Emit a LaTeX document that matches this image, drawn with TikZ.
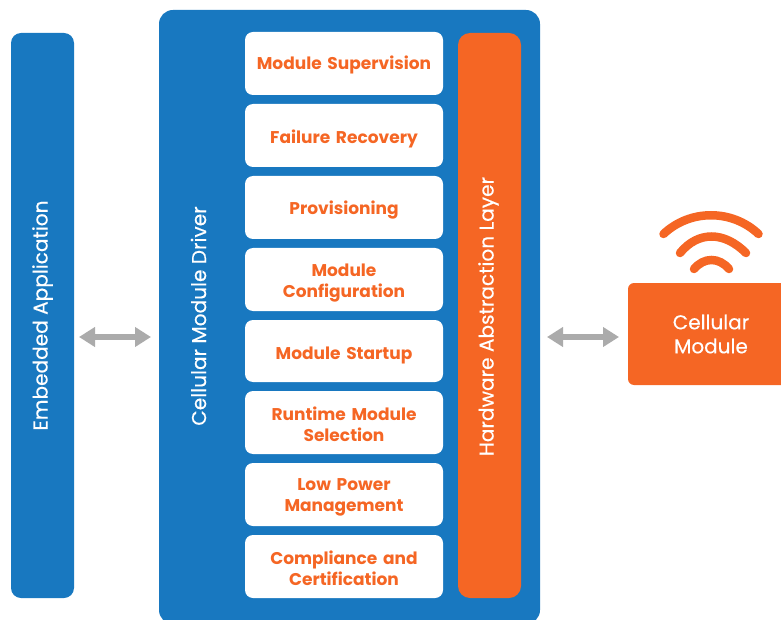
\documentclass[tikz,border=0pt]{standalone}
\usepackage{fontspec}
\setmainfont{Poppins}
\newfontfamily\medfont[FakeBold=0.3]{Poppins}
\usetikzlibrary{arrows.meta,calc}
\definecolor{cblue}{HTML}{1878C0}
\definecolor{corange}{HTML}{F56624}
\definecolor{cgrey}{HTML}{ABABAB}
\tikzset{
  panel/.style={anchor=north west,inner sep=0pt,outer sep=0pt,rounded corners=#1},
  itembox/.style={panel=8pt,fill=white,minimum width=198pt,minimum height=63pt},
  itemtext/.style={text width=190pt,align=center,text=corange,inner sep=0pt,
     font=\fontsize{17}{21}\selectfont\bfseries},
  sidelabel/.style={rotate=90,text=white,font=\fontsize{20.1}{24}\medfont},
  biarrow/.style={draw=cgrey,line width=6pt,{Triangle[length=16pt,width=19pt]}-{Triangle[length=16pt,width=19pt]}},
  wave/.style={draw=corange,line width=8.5pt,line cap=round}
}
\begin{document}
\begin{tikzpicture}[x=1pt,y=-1pt]
\useasboundingbox (0,0) rectangle (781,620);
\clip (0,0) rectangle (781,620);
\node[panel=10pt,fill=cblue,minimum width=63pt,minimum height=565pt] (app) at (11,33) {};
\node[panel=14pt,fill=cblue,minimum width=381pt,minimum height=614pt] (driver) at (159,10) {};
\node[panel=12pt,fill=corange,minimum width=63pt,minimum height=565pt] (hal) at (458,33) {};
\node[panel=6pt,fill=corange,minimum width=170pt,minimum height=102pt] (cell) at (628,283) {};
\node[itembox] (i1) at (245,32) {};
\node[itembox] (i2) at (245,104) {};
\node[itembox] (i3) at (245,176) {};
\node[itembox] (i4) at (245,248) {};
\node[itembox,minimum height=62pt] (i5) at (245,320) {};
\node[itembox] (i6) at (245,391) {};
\node[itembox] (i7) at (245,463) {};
\node[itembox] (i8) at (245,535) {};
\node[itemtext] (t1) at (344,64.5) {Module Supervision};
\node[itemtext] (t2) at (344,138.5) {Failure Recovery};
\node[itemtext] (t3) at (344,210.5) {Provisioning};
\node[itemtext] (t4) at (344,283.5) {Module\\Configuration};
\node[itemtext] (t5) at (344,355.5) {Module Startup};
\node[itemtext] (t6) at (344,424.5) {Runtime Module\\Selection};
\node[itemtext] (t7) at (344,497.5) {Low Power\\Management};
\node[itemtext] (t8) at (344,568.5) {Compliance and\\Certification};
\node[sidelabel] (appl) at (42.5,315.5) {Embedded Application};
\node[sidelabel] (drvl) at (198.5,316) {Cellular Module Driver};
\node[sidelabel] (hall) at (488.5,316.5) {Hardware Abstraction Layer};
\node[text=white,align=center,font=\fontsize{20}{24}\medfont] (celll) at (711,334) {Cellular\\Module};
\coordinate (ya) at (0,337);
\draw[biarrow,shorten <=5pt,shorten >=8pt] (app.east |- ya) -- (driver.west |- ya);
\draw[biarrow,shorten <=7pt,shorten >=9pt] (driver.east |- ya) -- (cell.west |- ya);
\draw[wave] (663.5,234) .. controls (690,209) and (732,209) .. (758.5,234);
\draw[wave] (680,253) .. controls (698,231) and (724,231) .. (746,253);
\draw[wave] (694,269) .. controls (704,257) and (719,257) .. (729,269);
\end{tikzpicture}
\end{document}
